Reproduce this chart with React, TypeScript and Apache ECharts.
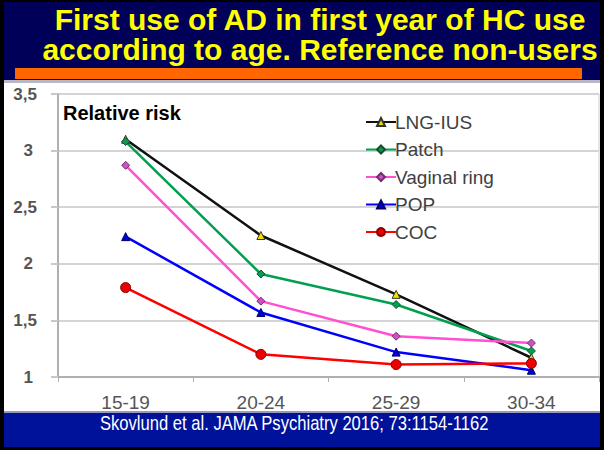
import React, { useEffect, useRef } from "react";
import * as echarts from "echarts";

const categories = ["15-19", "20-24", "25-29", "30-34"];
const lngIus = [3.1, 2.25, 1.73, 1.17];
const patch = [3.08, 1.91, 1.64, 1.23];
const vaginalRing = [2.87, 1.67, 1.36, 1.3];
const pop = [2.24, 1.57, 1.22, 1.06];
const coc = [1.79, 1.2, 1.11, 1.12];
const seriesNames = ["LNG-IUS", "Patch", "Vaginal ring", "POP", "COC"];
const titleLines = ["First use of AD in first year of HC use", "according to age. Reference non-users"];
const yLabel = "Relative risk";
const citation = "Skovlund et al. JAMA Psychiatry 2016; 73:1154-1162";

export default function App() {
  const ref = useRef<HTMLDivElement>(null);
  useEffect(() => {
    document.body.style.margin = "0";
    const chart = echarts.init(ref.current!, null, { renderer: "svg" });
    const mk = (
      name: string,
      data: number[],
      color: string,
      symbol: string,
      symbolColor: string,
      symbolSize: number,
      border: string
    ) => ({
      name,
      type: "line",
      data,
      symbol,
      symbolSize,
      lineStyle: { color, width: 2.5 },
      itemStyle: { color: symbolColor, borderColor: border, borderWidth: 1 },
      color,
    });
    chart.setOption({
      animation: false,
      textStyle: { fontFamily: "Liberation Sans, Arial, sans-serif" },
      graphic: [
        { type: "rect", shape: { x: 0, y: 0, width: 604, height: 450 }, style: { fill: "#000000" }, z: -10 },
        { type: "rect", shape: { x: 4, y: 2, width: 596, height: 78 }, style: { fill: "#000058" }, z: -9 },
        { type: "rect", shape: { x: 15, y: 68, width: 567, height: 11 }, style: { fill: "#FF6600" }, z: -8 },
        { type: "rect", shape: { x: 4, y: 80, width: 596, height: 333 }, style: { fill: "#ffffff" }, z: -8 },
        { type: "rect", shape: { x: 4, y: 80, width: 596, height: 3 }, style: { fill: "#b8b8c8" }, z: -7 },
        { type: "rect", shape: { x: 4, y: 413, width: 596, height: 34 }, style: { fill: "#00129A" }, z: -8 },
        { type: "rect", shape: { x: 4, y: 411, width: 596, height: 2 }, style: { fill: "#9a9ab8" }, z: -7 },
        {
          type: "text",
          x: 320,
          y: 19,
          style: {
            text: titleLines[0],
            fill: "#FFFF00",
            font: "bold 30px 'Liberation Sans', Arial, sans-serif",
            textAlign: "center",
            textVerticalAlign: "middle",
          },
        },
        {
          type: "text",
          x: 320,
          y: 49,
          style: {
            text: titleLines[1],
            fill: "#FFFF00",
            font: "bold 30px 'Liberation Sans', Arial, sans-serif",
            textAlign: "center",
            textVerticalAlign: "middle",
          },
        },
        {
          type: "text",
          x: 63,
          y: 113,
          style: {
            text: yLabel,
            fill: "#000000",
            font: "bold 20px 'Liberation Sans', Arial, sans-serif",
            textAlign: "left",
            textVerticalAlign: "middle",
          },
        },
        {
          type: "text",
          x: 100,
          y: 423,
          scaleX: 0.83,
          style: {
            text: citation,
            fill: "#ffffff",
            font: "20px 'Liberation Sans', Arial, sans-serif",
            textAlign: "left",
            textVerticalAlign: "middle",
          },
        },
      ],
      grid: {
        left: 58,
        right: 5,
        top: 94,
        bottom: 73,
        show: true,
        borderColor: "#cccccc",
        borderWidth: 1,
        backgroundColor: "transparent",
      },
      legend: {
        orient: "vertical",
        left: 360,
        top: 107,
        itemWidth: 30,
        itemHeight: 10,
        itemGap: 7.5,
        data: seriesNames,
        textStyle: { color: "#404040", fontSize: 19, lineHeight: 20, padding: [0, 0, 0, -6] },
      },
      xAxis: {
        type: "category",
        data: categories,
        boundaryGap: true,
        axisLine: { lineStyle: { color: "#b0b0b0", width: 2 } },
        axisTick: { show: true, length: 5, lineStyle: { color: "#b0b0b0" } },
        axisLabel: { color: "#555555", fontSize: 19, margin: 16 },
        splitLine: { show: false },
      },
      yAxis: {
        type: "value",
        min: 1,
        max: 3.5,
        interval: 0.5,
        axisLine: { show: true, lineStyle: { color: "#b0b0b0", width: 2 } },
        axisTick: { show: true, length: 7, lineStyle: { color: "#c8c8c8", width: 2 } },
        axisLabel: {
          color: "#555555",
          fontSize: 17,
          fontWeight: "bold",
          margin: 21,
          formatter: (v: number) =>
            Number.isInteger(v) ? `{i|${v}}` : `{d|${String(v).replace(".", ",")}}`,
          rich: {
            i: { color: "#555555", fontSize: 17, fontWeight: "bold", padding: [0, 4, 0, 0] },
            d: { color: "#555555", fontSize: 17, fontWeight: "bold" },
          },
        },
        splitLine: { lineStyle: { color: "#d4d4d4", width: 2 } },
      },
      series: [
        mk(seriesNames[0], lngIus, "#111111", "triangle", "#F0E000", 8, "#333333"),
        mk(seriesNames[1], patch, "#00A050", "diamond", "#00A050", 8, "#1a4a2a"),
        mk(seriesNames[2], vaginalRing, "#FF4FD2", "diamond", "#D050C0", 8, "#703070"),
        mk(seriesNames[3], pop, "#0000FF", "triangle", "#0000DD", 8, "#000066"),
        mk(seriesNames[4], coc, "#FF0000", "circle", "#EE0000", 10, "#880000"),
      ],
    });
    return () => chart.dispose();
  }, []);
  return (
    <div
      ref={ref}
      style={{ position: "absolute", left: 0, top: 0, width: 604, height: 450 }}
    />
  );
}
